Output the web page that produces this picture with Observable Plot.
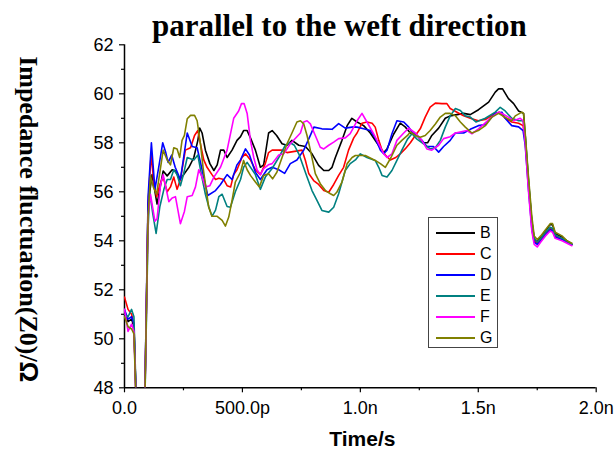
<!DOCTYPE html>
<html><head><meta charset="utf-8">
<script src="https://cdn.jsdelivr.net/npm/d3@7"></script>
<script src="https://cdn.jsdelivr.net/npm/@observablehq/plot@0.6"></script>
<style>
body{margin:0;background:#fff;}
#wrap{position:relative;width:614px;height:453px;background:#fff;}
#legend{position:absolute;left:428px;top:217px;width:70px;height:131px;border:1px solid #444;box-sizing:border-box;font:16px "Liberation Sans",Arial,sans-serif;background:#fff;}
.row{position:absolute;left:0;height:20px;width:68px;}
.sw{position:absolute;left:7px;top:9px;width:39px;height:2px;}
.lb{position:absolute;left:51px;top:0;line-height:20px;}
</style></head><body><div id="wrap"></div>
<script>
// ---- data (time in ns, impedance in ohm) ----
const seriesNames = ["B","C","D","E","F","G"];
const seriesColors = ["#000000","#ff0000","#0000ff","#008080","#ff00ff","#808000"];

const B = [[0,51.0],[0.015,50.7],[0.03,50.8],[0.04,50.5],[0.06,44],[0.08,44],[0.1,55.5],[0.117,56.7],[0.138,55.5],[0.164,56.85],[0.181,56.65],[0.202,56.9],[0.216,56.85],[0.234,56.5],[0.251,56.7],[0.273,57.0],[0.294,57.4],[0.311,58.1],[0.319,58.6],[0.329,58.4],[0.343,57.7],[0.362,57.15],[0.379,56.87],[0.393,57.1],[0.407,57.7],[0.421,57.7],[0.435,57.4],[0.456,57.7],[0.477,58.1],[0.492,58.25],[0.505,58.5],[0.52,58.5],[0.534,58.2],[0.555,57.7],[0.576,57.0],[0.59,57.1],[0.611,58.4],[0.626,58.5],[0.645,58.3],[0.668,57.96],[0.689,57.9],[0.71,58.1],[0.739,57.9],[0.767,57.85],[0.795,57.55],[0.823,57.08],[0.845,56.87],[0.866,56.87],[0.88,57.0],[0.894,57.4],[0.922,58.1],[0.944,58.7],[0.964,59.0],[0.986,58.85],[1.014,58.7],[1.042,58.4],[1.07,58.0],[1.099,57.6],[1.113,57.75],[1.141,58.35],[1.169,58.8],[1.19,58.65],[1.212,58.4],[1.24,58.3],[1.268,58.0],[1.285,58.0],[1.303,58.3],[1.332,58.6],[1.36,59.0],[1.381,59.1],[1.438,59.2],[1.466,59.15],[1.501,59.35],[1.544,59.66],[1.572,60.07],[1.586,60.2],[1.603,60.2],[1.628,59.8],[1.65,59.6],[1.671,59.3],[1.692,59.2],[1.699,58.3],[1.713,56.4],[1.727,54.8],[1.737,54.1],[1.747,53.95],[1.762,54.1],[1.784,54.4],[1.805,54.67],[1.815,54.65],[1.826,54.3],[1.855,54.15],[1.876,54.0],[1.897,53.85]];

const C = [[0,51.7],[0.015,51.2],[0.03,51.0],[0.04,50.6],[0.06,44],[0.08,44],[0.1,55.5],[0.113,57.55],[0.125,56.3],[0.136,55.8],[0.15,56.3],[0.164,56.6],[0.181,56.0],[0.195,56.2],[0.209,56.6],[0.223,56.1],[0.237,56.5],[0.258,57.7],[0.28,57.8],[0.297,58.3],[0.311,58.5],[0.322,57.96],[0.336,57.3],[0.35,57.0],[0.371,56.7],[0.386,56.5],[0.4,56.55],[0.421,56.5],[0.435,56.25],[0.45,56.2],[0.463,56.7],[0.477,56.9],[0.498,57.4],[0.513,57.55],[0.534,57.3],[0.555,56.9],[0.576,56.7],[0.597,57.15],[0.611,57.6],[0.626,57.7],[0.668,57.7],[0.689,57.6],[0.753,57.7],[0.767,57.28],[0.781,56.75],[0.802,56.46],[0.823,56.3],[0.845,56.05],[0.866,55.98],[0.887,56.3],[0.908,56.67],[0.929,57.0],[0.95,57.7],[0.972,58.2],[0.986,58.4],[1.007,58.8],[1.028,58.85],[1.05,58.8],[1.063,58.64],[1.078,58.1],[1.092,57.7],[1.106,57.5],[1.127,57.3],[1.15,57.4],[1.169,57.55],[1.19,57.75],[1.212,58.0],[1.233,58.3],[1.254,58.57],[1.275,59.05],[1.296,59.46],[1.318,59.62],[1.346,59.6],[1.367,59.6],[1.381,59.4],[1.41,59.25],[1.438,59.1],[1.466,59.0],[1.5,58.9],[1.53,58.95],[1.572,59.2],[1.59,59.25],[1.614,59.0],[1.642,58.85],[1.671,58.8],[1.69,58.7],[1.699,58.1],[1.713,56.3],[1.727,54.7],[1.737,54.0],[1.75,53.9],[1.765,54.05],[1.785,54.3],[1.805,54.5],[1.815,54.45],[1.826,54.2],[1.855,54.1],[1.876,53.95],[1.897,53.85]];

const D = [[0,51.2],[0.015,50.8],[0.03,50.9],[0.04,50.6],[0.06,44],[0.08,44],[0.1,55.8],[0.114,58.0],[0.129,56.1],[0.145,57.0],[0.162,58.0],[0.175,57.6],[0.185,57.2],[0.2,57.5],[0.215,57.0],[0.237,56.5],[0.266,58.4],[0.287,57.85],[0.308,57.8],[0.329,56.9],[0.353,55.85],[0.386,56.05],[0.407,56.3],[0.435,56.7],[0.456,56.5],[0.477,57.1],[0.492,57.3],[0.513,57.75],[0.53,57.5],[0.555,56.8],[0.576,56.5],[0.604,56.9],[0.626,57.0],[0.654,56.9],[0.679,56.75],[0.703,57.15],[0.731,57.3],[0.76,57.7],[0.788,58.3],[0.803,58.64],[0.837,58.57],[0.88,58.55],[0.908,58.78],[0.936,58.6],[0.972,58.65],[0.986,58.64],[1.014,58.57],[1.042,58.5],[1.063,58.2],[1.085,57.7],[1.099,57.55],[1.113,57.7],[1.134,58.37],[1.155,58.9],[1.184,58.85],[1.205,58.64],[1.219,58.45],[1.24,58.3],[1.261,58.1],[1.282,57.85],[1.31,57.85],[1.332,57.62],[1.353,57.85],[1.381,58.1],[1.403,58.4],[1.438,58.4],[1.466,58.55],[1.5,58.7],[1.53,58.75],[1.572,59.2],[1.6,59.25],[1.614,59.0],[1.642,58.7],[1.671,58.65],[1.69,58.5],[1.699,57.9],[1.713,56.1],[1.727,54.5],[1.737,53.95],[1.75,53.85],[1.765,54.0],[1.785,54.25],[1.805,54.45],[1.815,54.4],[1.826,54.15],[1.855,54.05],[1.876,53.95],[1.897,53.85]];

const E = [[0,51.0],[0.015,50.9],[0.03,51.2],[0.04,50.9],[0.06,44],[0.08,44],[0.1,54.5],[0.107,56.0],[0.12,55.1],[0.134,54.3],[0.15,55.4],[0.167,56.1],[0.181,56.5],[0.195,56.5],[0.209,56.9],[0.223,56.7],[0.237,56.25],[0.251,56.75],[0.266,57.4],[0.294,57.3],[0.311,57.5],[0.325,56.75],[0.343,55.9],[0.357,55.4],[0.371,55.0],[0.386,55.25],[0.4,55.8],[0.414,55.9],[0.435,55.4],[0.449,55.37],[0.47,56.0],[0.492,56.5],[0.505,57.0],[0.52,57.2],[0.555,56.7],[0.576,56.1],[0.597,56.6],[0.626,56.95],[0.654,57.4],[0.682,57.9],[0.703,58.0],[0.72,57.9],[0.739,57.55],[0.774,56.6],[0.795,56.05],[0.816,55.65],[0.837,55.24],[0.866,55.17],[0.887,55.37],[0.908,55.92],[0.936,56.87],[0.957,57.15],[0.979,57.3],[1.0,57.55],[1.028,57.4],[1.063,57.28],[1.078,57.0],[1.092,56.67],[1.113,56.6],[1.134,56.87],[1.155,57.28],[1.176,57.7],[1.2,58.15],[1.219,58.37],[1.24,58.15],[1.268,57.96],[1.296,57.75],[1.318,57.8],[1.339,58.1],[1.36,58.64],[1.381,59.1],[1.403,59.4],[1.424,59.32],[1.445,59.1],[1.466,59.05],[1.49,58.85],[1.53,59.0],[1.572,59.25],[1.593,59.45],[1.614,59.3],[1.642,59.0],[1.671,58.9],[1.69,58.9],[1.699,58.3],[1.713,56.5],[1.727,54.8],[1.737,54.1],[1.75,53.95],[1.765,54.1],[1.785,54.35],[1.805,54.55],[1.815,54.5],[1.826,54.25],[1.855,54.1],[1.876,54.0],[1.897,53.85]];

const F = [[0,51.2],[0.015,50.3],[0.03,50.6],[0.04,50.3],[0.06,44],[0.08,44],[0.1,55.0],[0.11,55.9],[0.129,54.8],[0.138,54.9],[0.153,56.3],[0.164,56.7],[0.188,55.6],[0.202,55.75],[0.216,55.8],[0.237,54.7],[0.254,55.2],[0.266,55.8],[0.287,55.85],[0.301,56.2],[0.315,56.9],[0.329,56.6],[0.343,56.2],[0.362,56.25],[0.379,56.6],[0.407,57.0],[0.435,57.7],[0.463,59.0],[0.484,59.3],[0.496,59.6],[0.507,59.6],[0.52,59.2],[0.534,58.1],[0.548,57.4],[0.562,56.9],[0.576,56.7],[0.59,56.95],[0.61,57.1],[0.626,57.15],[0.654,57.5],[0.675,57.55],[0.703,57.96],[0.746,58.4],[0.76,58.85],[0.774,58.9],[0.788,58.77],[0.809,58.3],[0.83,57.82],[0.845,57.75],[0.866,57.9],[0.887,58.03],[0.908,58.17],[0.936,58.2],[0.957,58.37],[0.972,58.64],[0.986,58.9],[1.007,59.2],[1.028,58.85],[1.056,58.37],[1.078,57.96],[1.099,57.55],[1.113,57.4],[1.134,57.55],[1.155,58.1],[1.184,58.4],[1.205,58.6],[1.233,58.4],[1.261,58.1],[1.282,57.75],[1.303,57.7],[1.332,57.9],[1.353,58.17],[1.381,58.25],[1.403,58.4],[1.452,58.5],[1.473,58.37],[1.501,58.57],[1.551,59.0],[1.586,59.25],[1.6,59.2],[1.628,59.05],[1.65,58.9],[1.678,59.0],[1.69,58.9],[1.699,58.0],[1.713,56.0],[1.727,54.4],[1.737,53.85],[1.75,53.75],[1.765,53.95],[1.785,54.2],[1.805,54.4],[1.815,54.35],[1.826,54.1],[1.855,54.0],[1.876,53.9],[1.897,53.8]];

const G = [[0,50.9],[0.015,50.5],[0.03,50.4],[0.04,50.2],[0.06,44],[0.08,44],[0.1,55.0],[0.11,56.65],[0.122,56.2],[0.136,55.9],[0.15,56.8],[0.164,57.7],[0.181,57.3],[0.195,57.1],[0.209,57.8],[0.223,57.75],[0.234,57.4],[0.244,58.1],[0.254,58.3],[0.266,58.98],[0.28,59.12],[0.297,59.12],[0.308,58.9],[0.322,57.96],[0.333,57.0],[0.347,56.05],[0.357,55.37],[0.371,55.0],[0.393,55.0],[0.414,54.83],[0.428,54.6],[0.442,54.97],[0.456,55.65],[0.47,56.4],[0.492,56.8],[0.505,57.28],[0.52,56.9],[0.534,56.67],[0.555,56.4],[0.572,56.2],[0.59,56.67],[0.611,56.74],[0.628,56.53],[0.646,56.8],[0.668,57.4],[0.689,57.96],[0.71,58.4],[0.731,58.85],[0.746,58.9],[0.76,58.77],[0.774,58.3],[0.788,57.7],[0.809,56.74],[0.83,56.33],[0.852,56.05],[0.873,55.92],[0.887,55.85],[0.9,55.98],[0.922,56.4],[0.944,57.15],[0.965,57.4],[0.979,57.48],[1.021,57.48],[1.063,57.28],[1.085,57.15],[1.106,57.0],[1.13,57.4],[1.155,57.9],[1.176,58.1],[1.2,58.3],[1.212,58.44],[1.233,58.3],[1.254,58.23],[1.275,58.3],[1.296,58.5],[1.318,58.77],[1.339,59.05],[1.36,59.2],[1.381,59.2],[1.403,59.1],[1.424,58.85],[1.445,58.64],[1.473,58.4],[1.5,58.5],[1.53,58.7],[1.558,59.05],[1.586,59.2],[1.6,59.12],[1.621,59.0],[1.642,58.9],[1.657,59.1],[1.685,59.25],[1.692,59.2],[1.699,58.4],[1.713,56.6],[1.727,55.0],[1.737,54.2],[1.75,54.05],[1.765,54.2],[1.785,54.45],[1.805,54.7],[1.815,54.7],[1.826,54.35],[1.855,54.2],[1.876,54.0],[1.897,53.9]];

const xTicks = [0, 0.5, 1, 1.5, 2];
const xTickLabels = ["0.0", "500.0p", "1.0n", "1.5n", "2.0n"];
const xMinorTicks = [0.25, 0.75, 1.25, 1.75];
const yTicks = [48, 50, 52, 54, 56, 58, 60, 62];
const yMinorTicks = [49, 51, 53, 55, 57, 59, 61];
const titleText = "parallel to the weft direction";
const xLabel = "Time/s";
const yLabelMain = "Impedance fluctuation(Z0)/";
const yLabelUnit = "Ω";

// ---- build table ----
const seriesData = [B, C, D, E, F, G];
const rows = seriesData.flatMap((arr, i) => arr.map(([t, v]) => ({series: seriesNames[i], t, v})));

const serif = '"Liberation Serif","Times New Roman",serif';
const sans = '"Liberation Sans",Arial,sans-serif';

const chart = Plot.plot({
  width: 614,
  height: 453,
  marginLeft: 124,
  marginRight: 18.3,
  marginTop: 44.3,
  marginBottom: 65.7,
  style: {fontFamily: sans, fontSize: "18px", color: "#000", background: "#fff", overflow: "visible"},
  x: {domain: [0, 2]},
  y: {domain: [48, 62]},
  color: {domain: seriesNames, range: seriesColors},
  marks: [
    Plot.axisX(xMinorTicks, {tickSize: 3, tickFormat: () => "", label: null, strokeWidth: 1.2}),
    Plot.axisX(xTicks, {tickSize: 5, tickPadding: 8, tickFormat: d => xTickLabels[xTicks.indexOf(d)], label: null, fontSize: 18, strokeWidth: 1.2}),
    Plot.axisY(yMinorTicks, {tickSize: 3, tickFormat: () => "", label: null, strokeWidth: 1.2}),
    Plot.axisY(yTicks, {tickSize: 5, tickPadding: 6, label: null, fontSize: 18, strokeWidth: 1.2}),
    Plot.ruleX([0], {stroke: "#000", strokeWidth: 1.5}),
    Plot.ruleY([48], {stroke: "#000", strokeWidth: 1.5}),
    Plot.line(rows, {x: "t", y: "v", z: "series", stroke: "series", strokeWidth: 1.6, clip: true}),
    Plot.text([titleText], {frameAnchor: "top", dx: -21, dy: -9.3, lineAnchor: "bottom", textAnchor: "middle", fontFamily: serif, fontWeight: "bold", fontSize: 31}),
    Plot.text([xLabel], {frameAnchor: "bottom", dx: 2, dy: 51, lineAnchor: "middle", textAnchor: "middle", fontFamily: sans, fontWeight: "bold", fontSize: 21}),
    Plot.text([yLabelMain + yLabelUnit], {frameAnchor: "left", rotate: 90, dx: -96, dy: 3, lineAnchor: "middle", textAnchor: "middle", fontFamily: serif, fontWeight: "bold", fontSize: 26})
  ]
});

const wrap = document.getElementById("wrap");
wrap.appendChild(chart);

// Render unit symbol in sans-serif like the original
d3.select(chart).selectAll("text").filter(function() { return this.textContent === yLabelMain + yLabelUnit; })
  .each(function() {
    const t = d3.select(this);
    t.text(yLabelMain);
    t.append("tspan").attr("font-family", sans).text(yLabelUnit);
  });

// Legend
const legend = document.createElement("div");
legend.id = "legend";
seriesNames.forEach((name, i) => {
  const row = document.createElement("div");
  row.className = "row";
  row.style.top = (4.7 + i * 21) + "px";
  const sw = document.createElement("div");
  sw.className = "sw";
  sw.style.background = seriesColors[i];
  const lb = document.createElement("div");
  lb.className = "lb";
  lb.textContent = name;
  row.appendChild(sw);
  row.appendChild(lb);
  legend.appendChild(row);
});
wrap.appendChild(legend);
</script>
</body></html>
